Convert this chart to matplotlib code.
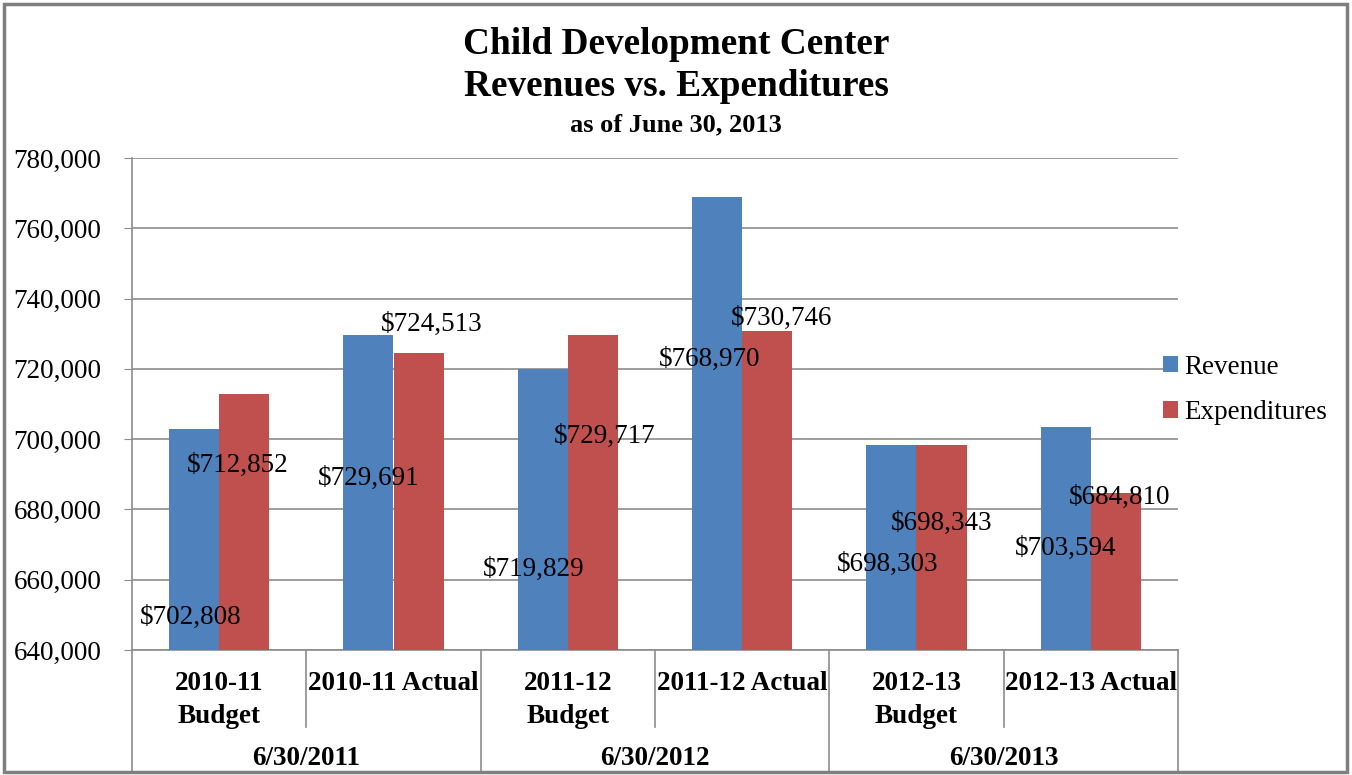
import matplotlib
matplotlib.use("Agg")
import matplotlib.pyplot as plt
from matplotlib.patches import Rectangle
from matplotlib.ticker import FuncFormatter
import numpy as np

plt.rcParams['font.family'] = ['Liberation Serif', 'DejaVu Serif']

# data
categories = ["2010-11\nBudget", "2010-11 Actual", "2011-12\nBudget",
              "2011-12 Actual", "2012-13\nBudget", "2012-13 Actual"]
groups = ["6/30/2011", "6/30/2012", "6/30/2013"]
revenue = [702808, 729691, 719829, 768970, 698303, 703594]
expenditures = [712852, 724513, 729717, 730746, 698343, 684810]

# label offsets in pixels (x, y), placed as in the original chart
rev_off = [(-3, -188), (0, -144), (-9, -200), (-8, -163), (-4, -119), (0, -122)]
exp_off = [(-6, -71), (13, 29), (12, -102), (14, 13), (0, -78), (4, -5)]

blue = '#4F81BD'
red = '#C0504D'
grey = '#8C8C8C'

fig = plt.figure(figsize=(13.52, 7.75), dpi=100)
ax = fig.add_axes([132/1352, 1-650/775, (1178-132)/1352, (650-158)/775])

x = np.arange(len(categories))
w = 0.287
ax.bar(x - w/2, revenue, w, color=blue, label='Revenue', zorder=3)
ax.bar(x + w/2, expenditures, w, color=red, label='Expenditures', zorder=3)

for i in range(len(x)):
    ax.annotate("${:,}".format(revenue[i]), (x[i] - w/2, revenue[i]),
                xytext=rev_off[i], textcoords='offset pixels',
                ha='center', va='center', fontsize=19.5, zorder=5)
    ax.annotate("${:,}".format(expenditures[i]), (x[i] + w/2, expenditures[i]),
                xytext=exp_off[i], textcoords='offset pixels',
                ha='center', va='center', fontsize=19.5, zorder=5)

ax.set_xlim(-0.5, 5.5)
ax.set_ylim(640000, 780000)
ax.set_yticks(np.arange(640000, 780001, 20000))
ax.yaxis.set_major_formatter(FuncFormatter(lambda v, p: "{:,.0f}".format(v)))
ax.tick_params(axis='y', labelsize=19.5, length=6, color=grey, pad=16)
ax.set_xticks([])
ax.yaxis.grid(True, color=grey, linewidth=1.2, zorder=0)
for s in ['top', 'right']:
    ax.spines[s].set_visible(False)
for s in ['left', 'bottom']:
    ax.spines[s].set_color(grey)
    ax.spines[s].set_linewidth(1.2)

# multi-level category axis
trans = ax.get_xaxis_transform()
for i, c in enumerate(categories):
    ax.text(x[i], -0.043, c, transform=trans, ha='center', va='top',
            fontsize=19.5, fontweight='bold', linespacing=1.4)
for j, g in enumerate(groups):
    ax.text(2*j + 0.5, -0.22, g, transform=trans, ha='center', va='center',
            fontsize=19.5, fontweight='bold')
for b in [0.5, 2.5, 4.5]:
    ax.plot([b, b], [0, -0.157], transform=trans, color=grey, lw=1.2, clip_on=False)
for b in [-0.5, 1.5, 3.5, 5.5]:
    ax.plot([b, b], [0, -0.25], transform=trans, color=grey, lw=1.2, clip_on=False)

ax.legend(loc='center left', bbox_to_anchor=(1163/1352, 1-390/775),
          bbox_transform=fig.transFigure, frameon=False, fontsize=19.5,
          handlelength=0.55, handleheight=0.55, handletextpad=0.25,
          labelspacing=0.75, borderpad=0, borderaxespad=0)

# titles
fig.text(0.5, 1-45/775, "Child Development Center", ha='center', va='center',
         fontsize=26.8, fontweight='bold')
fig.text(0.5, 1-87/775, "Revenues vs. Expenditures", ha='center', va='center',
         fontsize=26.8, fontweight='bold')
fig.text(0.5, 1-125/775, "as of June 30, 2013", ha='center', va='center',
         fontsize=19, fontweight='bold')

# outer frame
fig.patches.append(Rectangle((4/1352, 3/775), 1343/1352, 768/775,
                             transform=fig.transFigure, fill=False,
                             edgecolor='#7F7F7F', linewidth=2.5))

fig.savefig("out.png", dpi=100)
